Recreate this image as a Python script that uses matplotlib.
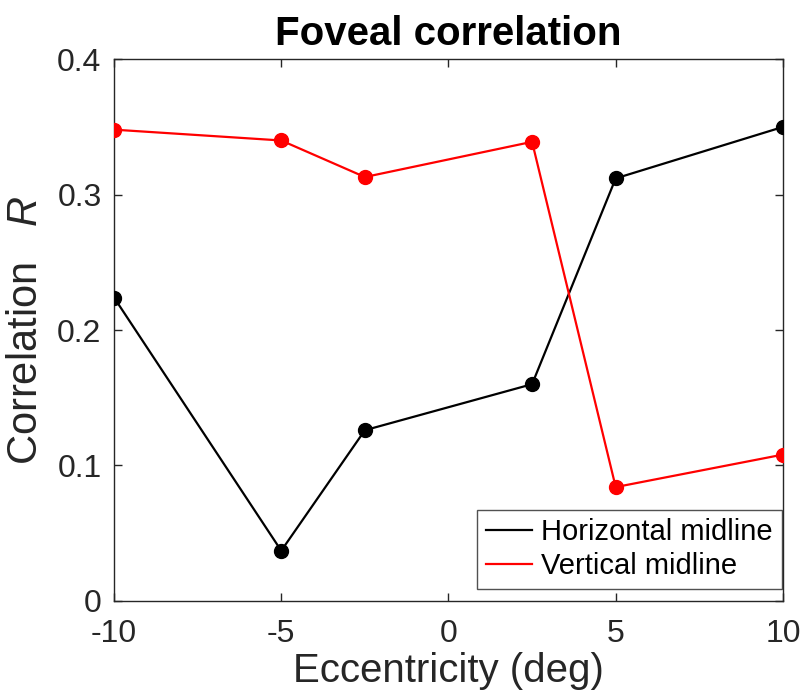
import numpy as np
import matplotlib
matplotlib.use("Agg")
import matplotlib.pyplot as plt

plt.rcParams['font.family'] = ['Liberation Sans', 'DejaVu Sans']
plt.rcParams['mathtext.fontset'] = 'custom'
plt.rcParams['mathtext.it'] = 'Liberation Sans:italic'
plt.rcParams['mathtext.rm'] = 'Liberation Sans'

ecc = [-10, -5, -2.5, 2.5, 5, 10]
horizontal = [0.224, 0.037, 0.126, 0.160, 0.312, 0.350]
vertical = [0.348, 0.340, 0.313, 0.339, 0.084, 0.108]
xticks = [-10, -5, 0, 5, 10]
yticks = [0, 0.1, 0.2, 0.3, 0.4]

fig = plt.figure(figsize=(8.03, 6.97), dpi=100)
ax = fig.add_axes([0.142, 0.138, 0.833, 0.777])

ax.plot(ecc, horizontal, color='black', lw=1.6, label='Horizontal midline')
ax.plot(ecc, vertical, color='red', lw=1.6, label='Vertical midline')
ax.plot(ecc, horizontal, 'o', color='black', ms=10, zorder=3)
ax.plot(ecc, vertical, 'o', color='red', ms=10, zorder=3)

ax.set_xlim(-10, 10)
ax.set_ylim(0, 0.4)
ax.set_xticks(xticks)
ax.set_xticklabels([str(t) for t in xticks])
ax.set_yticks(yticks)
ax.set_yticklabels(['0', '0.1', '0.2', '0.3', '0.4'])
ax.tick_params(direction='in', top=True, right=True, length=6, width=1,
               labelsize=23, colors='#262626')
ax.tick_params(axis='x', pad=13)
ax.tick_params(axis='y', pad=9)
for s in ax.spines.values():
    s.set_color('#262626')
    s.set_linewidth(1)

ax.set_xlabel('Eccentricity (deg)', fontsize=29, color='#262626', labelpad=2)
ax.set_ylabel(r'Correlation   $R$', fontsize=30, color='#262626', labelpad=8)
ax.set_title('Foveal correlation', fontsize=29, fontweight='bold', pad=10)

leg = ax.legend(loc='lower right', bbox_to_anchor=(0.998, 0.022), fontsize=21,
                frameon=True, fancybox=False, edgecolor='#262626',
                handlelength=1.6, handletextpad=0.3, borderpad=0.3,
                labelspacing=0.2, borderaxespad=0)
leg.get_frame().set_linewidth(1)

fig.savefig('out.png', dpi=100)
